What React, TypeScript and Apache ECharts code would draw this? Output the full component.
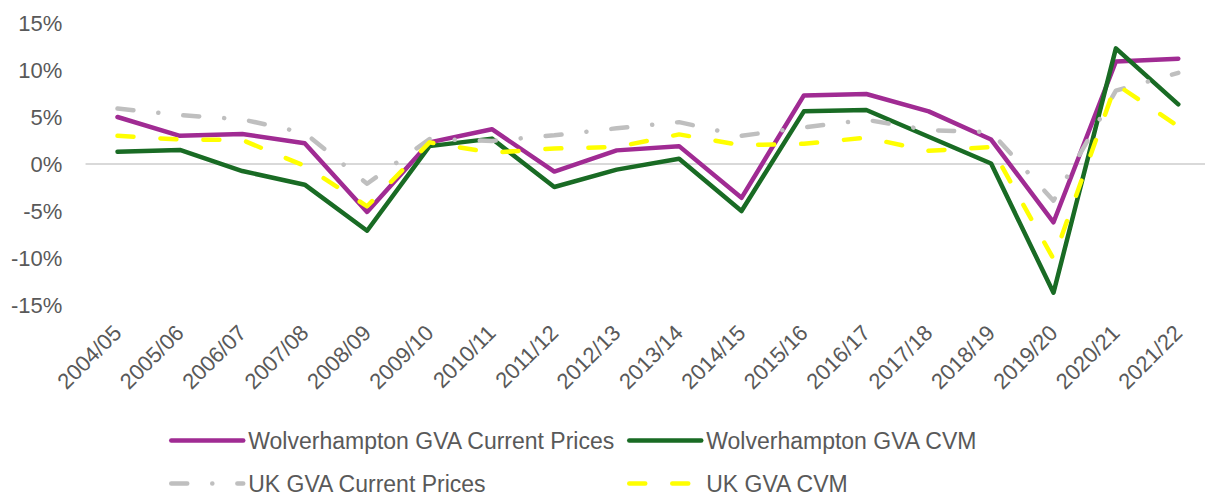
import React, { useEffect, useRef } from "react";
import * as echarts from "echarts";

const categories = [
  "2004/05", "2005/06", "2006/07", "2007/08", "2008/09", "2009/10",
  "2010/11", "2011/12", "2012/13", "2013/14", "2014/15", "2015/16",
  "2016/17", "2017/18", "2018/19", "2019/20", "2020/21", "2021/22",
];

const wolvCurrent = [5.0, 3.0, 3.2, 2.2, -5.1, 2.3, 3.7, -0.8, 1.45, 1.9, -3.6, 7.3, 7.45, 5.6, 2.6, -6.2, 10.9, 11.2];
const wolvCVM = [1.3, 1.5, -0.75, -2.2, -7.1, 1.9, 2.7, -2.45, -0.6, 0.55, -5.0, 5.6, 5.75, 2.9, 0.05, -13.7, 12.3, 6.35];
const ukCurrent = [5.9, 5.2, 4.75, 3.3, -2.1, 2.65, 2.45, 3.05, 3.8, 4.45, 3.0, 3.9, 4.7, 3.6, 3.4, -3.9, 7.8, 9.7];
const ukCVM = [3.0, 2.6, 2.55, -0.2, -4.5, 2.3, 1.2, 1.65, 1.8, 3.15, 2.0, 2.15, 2.8, 1.4, 1.8, -10.1, 8.5, 4.0];

const seriesNames = [
  "Wolverhampton GVA Current Prices",
  "Wolverhampton GVA CVM",
  "UK GVA Current Prices",
  "UK GVA CVM",
];

const yTicks = { min: -15, max: 15, interval: 5 };

const FONT = "Liberation Sans, Arial, sans-serif";
const TEXT = "#595959";

export default function App() {
  const ref = useRef<HTMLDivElement>(null);

  useEffect(() => {
    if (!ref.current) return;
    const chart = echarts.init(ref.current, undefined, { renderer: "svg" });

    const legendAt = (name: string, left: number, top: number) => ({
      show: true,
      data: [name],
      left,
      top,
      padding: 0,
      itemWidth: 72,
      itemHeight: 14,
      orient: "horizontal",
      selectedMode: false,
      lineStyle: { width: 4.5 },
      itemStyle: { opacity: 0 },
      textStyle: { fontSize: 23, color: TEXT, fontFamily: FONT, lineHeight: 22 },
    });

    const option: any = {
      animation: false,
      backgroundColor: "#ffffff",
      textStyle: { fontFamily: FONT },
      grid: {
        left: 86.3,
        top: 23,
        width: 1123.2,
        height: 282,
        containLabel: false,
        outerBoundsMode: "none",
      },
      legend: [
        legendAt(seriesNames[0], 169, 429),
        legendAt(seriesNames[1], 627, 429),
        legendAt(seriesNames[2], 169, 472),
        legendAt(seriesNames[3], 627, 472),
      ],
      xAxis: [
        {
          type: "category",
          data: categories,
          boundaryGap: true,
          position: "bottom",
          axisLine: { show: false, onZero: false },
          axisTick: { show: false },
          splitLine: { show: false },
          axisLabel: {
            interval: 0,
            rotate: 45,
            margin: 24,
            fontSize: 22,
            color: TEXT,
            fontFamily: FONT,
          },
        },
        {
          type: "category",
          data: categories,
          boundaryGap: true,
          position: "top",
          axisLine: { show: true, onZero: true, lineStyle: { color: "#D9D9D9", width: 2 } },
          axisTick: { show: false },
          axisLabel: { show: false },
          splitLine: { show: false },
        },
      ],
      yAxis: {
        type: "value",
        min: yTicks.min,
        max: yTicks.max,
        interval: yTicks.interval,
        axisLine: { show: false },
        axisTick: { show: false },
        splitLine: { show: false },
        axisLabel: {
          formatter: "{value}%",
          margin: 24,
          fontSize: 22,
          color: TEXT,
          fontFamily: FONT,
        },
      },
      series: [
        {
          name: seriesNames[0],
          type: "line",
          data: wolvCurrent,
          symbol: "none",
          color: "#A02B93",
          lineStyle: { color: "#A02B93", width: 4.5, cap: "round", join: "round" },
        },
        {
          name: seriesNames[1],
          type: "line",
          data: wolvCVM,
          symbol: "none",
          color: "#196B24",
          lineStyle: { color: "#196B24", width: 4.5, cap: "round", join: "round" },
        },
        {
          name: seriesNames[2],
          type: "line",
          data: ukCurrent,
          symbol: "none",
          color: "#BFBFBF",
          lineStyle: { color: "#BFBFBF", width: 4.5, type: [16, 25, 0.1, 25], cap: "round", join: "round" },
        },
        {
          name: seriesNames[3],
          type: "line",
          data: ukCVM,
          symbol: "none",
          color: "#FFFF00",
          lineStyle: { color: "#FFFF00", width: 4.5, type: [16, 27], cap: "round", join: "round" },
        },
      ],
    };

    chart.setOption(option);
    return () => chart.dispose();
  }, []);

  return (
    <div
      ref={ref}
      style={{ position: "absolute", left: 0, top: 0, width: 1205, height: 495 }}
    />
  );
}
